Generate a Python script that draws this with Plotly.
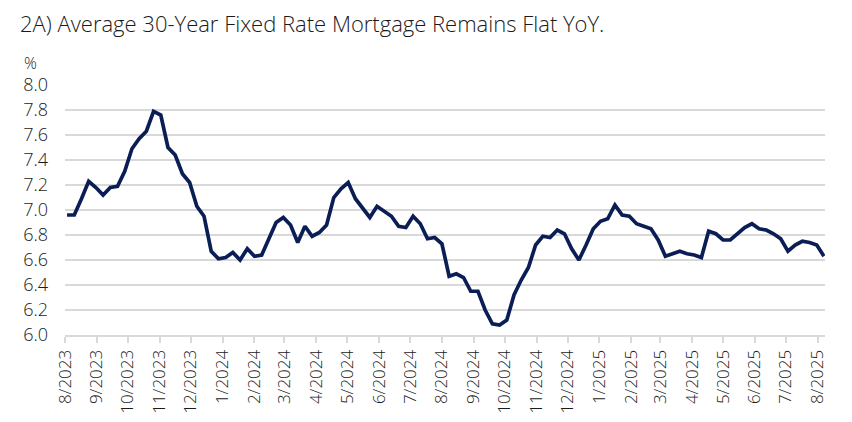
import plotly.graph_objects as go
import pandas as pd

# Weekly dates (Thursdays), Aug 2023 - Aug 2025
start_date = "2023-08-03"
n_weeks = 106
dates = pd.date_range(start_date, periods=n_weeks, freq="7D")

rates = [
    # Aug 2023
    6.96, 6.96, 7.09, 7.23, 7.18,
    # Sep 2023
    7.12, 7.18, 7.19, 7.31,
    # Oct 2023
    7.49, 7.57, 7.63, 7.79,
    # Nov 2023
    7.76, 7.50, 7.44, 7.29, 7.22,
    # Dec 2023
    7.03, 6.95, 6.67, 6.61,
    # Jan 2024
    6.62, 6.66, 6.60, 6.69,
    # Feb 2024
    6.63, 6.64, 6.77, 6.90, 6.94,
    # Mar 2024
    6.88, 6.74, 6.87, 6.79,
    # Apr 2024
    6.82, 6.88, 7.10, 7.17,
    # May 2024
    7.22, 7.09, 7.02, 6.94, 7.03,
    # Jun 2024
    6.99, 6.95, 6.87, 6.86,
    # Jul 2024
    6.95, 6.89, 6.77, 6.78,
    # Aug 2024
    6.73, 6.47, 6.49, 6.46, 6.35,
    # Sep 2024
    6.35, 6.20, 6.09, 6.08,
    # Oct 2024
    6.12, 6.32, 6.44, 6.54, 6.72,
    # Nov 2024
    6.79, 6.78, 6.84, 6.81,
    # Dec 2024
    6.69, 6.60, 6.72, 6.85,
    # Jan 2025
    6.91, 6.93, 7.04, 6.96, 6.95,
    # Feb 2025
    6.89, 6.87, 6.85, 6.76,
    # Mar 2025
    6.63, 6.65, 6.67, 6.65,
    # Apr 2025
    6.64, 6.62, 6.83, 6.81,
    # May 2025
    6.76, 6.76, 6.81, 6.86, 6.89,
    # Jun 2025
    6.85, 6.84, 6.81, 6.77,
    # Jul 2025
    6.67, 6.72, 6.75, 6.74, 6.72,
    # Aug 2025
    6.63,
]

dates = dates[:len(rates)]

title_text = "2A) Average 30-Year Fixed Rate Mortgage Remains Flat YoY."
y_unit = "%"
x_range = ["2023-08-01", "2025-08-08"]
y_range = [6.0, 8.0]

FONT = "Open Sans"
TEXT = "#1a1a1a"
GRID = "#d9d9d9"
NAVY = "#0a1e55"

# The page body has an 8px default margin; size the figure to fill the rest.
W, H = 844, 414

fig = go.Figure()
fig.add_trace(go.Scatter(
    x=dates, y=rates, mode="lines",
    line=dict(color=NAVY, width=3.7),
    hoverinfo="x+y", showlegend=False,
))

fig.update_layout(
    width=W, height=H,
    margin=dict(l=57, r=27, t=77, b=87, autoexpand=False),
    paper_bgcolor="white", plot_bgcolor="white",
    font=dict(family=FONT, color=TEXT),
    title=dict(text=title_text, x=12 / W, xref="container", xanchor="left",
               y=1 - 16 / H, yref="container", yanchor="middle",
               font=dict(family=FONT, size=22, color=TEXT, weight=300)),
    annotations=[dict(text=y_unit, xref="paper", yref="paper",
                      x=-0.045, y=1.0, xanchor="center", yanchor="bottom",
                      yshift=10, showarrow=False, borderpad=0,
                      font=dict(family=FONT, size=16, color=TEXT, weight=300))],
)

fig.update_xaxes(
    type="date", range=x_range, automargin=False,
    tick0="2023-08-01", dtick="M1", tickformat="%-m/%Y",
    tickangle=-90, tickfont=dict(family=FONT, size=17, color=TEXT, weight=300),
    showgrid=False, showline=True, linecolor=GRID, linewidth=2,
    ticks="outside", ticklen=6, tickwidth=1.5, tickcolor=GRID,
    zeroline=False,
)
fig.update_yaxes(
    range=y_range, dtick=0.2, tick0=6.0, tickformat=".1f", automargin=False,
    tickfont=dict(family=FONT, size=18, color=TEXT, weight=300),
    showgrid=True, gridcolor=GRID, gridwidth=1.5,
    showline=False, zeroline=False, ticks="", ticklabelstandoff=16,
)

fig.write_html("out.html")
